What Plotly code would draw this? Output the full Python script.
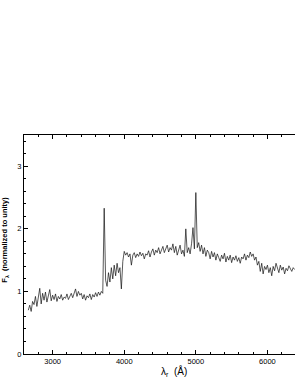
import numpy as np
import plotly.graph_objects as go

# wavelength sampling grid (Angstrom) and normalized flux
wave_start = 2660
wave_step = 20
flux = [
    0.70, 0.78, 0.68, 0.84, 0.79, 0.92, 0.76, 0.95, 1.05, 0.80,
    0.97, 0.86, 0.99, 0.83, 0.93, 1.03, 0.85, 0.94, 0.87, 0.96,
    0.84, 0.92, 0.88, 0.95, 0.86, 0.91, 0.89, 0.96, 0.87, 0.93,
    0.97, 0.90, 0.99, 1.04, 0.92, 1.00, 0.94, 0.97, 0.88, 0.95,
    0.86, 0.93, 0.90, 0.96, 0.87, 0.95, 0.91, 0.98, 0.92, 0.99,
    0.94, 1.00, 0.97, 2.33, 1.18, 1.08, 1.30, 1.15, 1.38, 1.20,
    1.42, 1.25, 1.45, 1.30, 1.38, 1.04, 1.48, 1.64, 1.58, 1.62,
    1.55, 1.60, 1.42, 1.58, 1.62, 1.54, 1.60, 1.56, 1.63, 1.57,
    1.61, 1.52, 1.60, 1.58, 1.65, 1.55, 1.63, 1.68, 1.58, 1.66,
    1.62, 1.70, 1.60, 1.67, 1.72, 1.62, 1.68, 1.74, 1.63, 1.70,
    1.66, 1.76, 1.62, 1.72, 1.58, 1.68, 1.74, 1.60, 1.66, 1.56,
    2.00, 1.62, 1.70, 1.60, 1.76, 2.02, 1.68, 2.58, 1.70, 1.78,
    1.64, 1.74, 1.60, 1.70, 1.56, 1.66, 1.62, 1.52, 1.64, 1.55,
    1.62, 1.50, 1.60, 1.54, 1.48, 1.58, 1.52, 1.61, 1.47, 1.56,
    1.50, 1.58, 1.46, 1.55, 1.50, 1.57, 1.48, 1.54, 1.45, 1.55,
    1.52, 1.60, 1.50, 1.58, 1.54, 1.63, 1.56, 1.60, 1.50, 1.55,
    1.42, 1.48, 1.32, 1.45, 1.28, 1.40, 1.35, 1.42, 1.30, 1.38,
    1.25, 1.40, 1.33, 1.45, 1.36, 1.30, 1.42, 1.34, 1.39, 1.28,
    1.37, 1.33, 1.41, 1.36, 1.32, 1.38, 1.35,
]
wave = wave_start + wave_step * np.arange(len(flux))

x_ticks = [3000, 4000, 5000, 6000]
y_ticks = [0, 1, 2, 3]

font = "Liberation Sans"

fig = go.Figure()
fig.add_trace(go.Scatter(x=wave, y=flux, mode="lines",
                         line=dict(color="#111111", width=0.7),
                         showlegend=False, hoverinfo="skip"))

fig.update_layout(
    width=295, height=382,
    margin=dict(l=24, r=0, t=135, b=28, autoexpand=False),
    paper_bgcolor="white", plot_bgcolor="white",
    font=dict(family=font, size=7.5, color="black"),
)
fig.update_xaxes(
    range=[2600, 6385], tickvals=x_ticks, ticktext=[str(v) for v in x_ticks],
    ticks="inside", ticklen=4, tickwidth=1, tickcolor="black",
    showline=True, linecolor="black", linewidth=1, mirror="ticks",
    showgrid=False, zeroline=False, automargin=False,
    minor=dict(dtick=200, tick0=2600, ticks="inside", ticklen=2,
               tickcolor="black", showgrid=False),
    tickfont=dict(family=font, size=7.5, color="black"),
)
fig.update_yaxes(
    range=[0, 3.5], tickvals=y_ticks, ticktext=[str(v) for v in y_ticks],
    ticks="inside", ticklen=4, tickwidth=1, tickcolor="black",
    showline=True, linecolor="black", linewidth=1, mirror=False,
    showgrid=False, zeroline=False, automargin=False,
    minor=dict(dtick=0.2, tick0=0, ticks="inside", ticklen=2,
               tickcolor="black", showgrid=False),
    tickfont=dict(family=font, size=7.5, color="black"),
)

fig.add_annotation(text="λ<sub>r</sub>  (Å)", xref="paper", yref="paper",
                   x=0.553, y=-0.078, xanchor="center", yanchor="middle",
                   showarrow=False, font=dict(family=font, size=10, color="black"))
fig.add_annotation(text="<b>F<sub>λ</sub>  (normalized to unity)</b>", xref="paper", yref="paper",
                   x=-0.068, y=0.52, xanchor="center", yanchor="middle", textangle=-90,
                   showarrow=False, font=dict(family=font, size=7.5, color="black"))

fig.write_html("out.html", config={"displayModeBar": False},
               post_script="document.body.style.margin='0';")
